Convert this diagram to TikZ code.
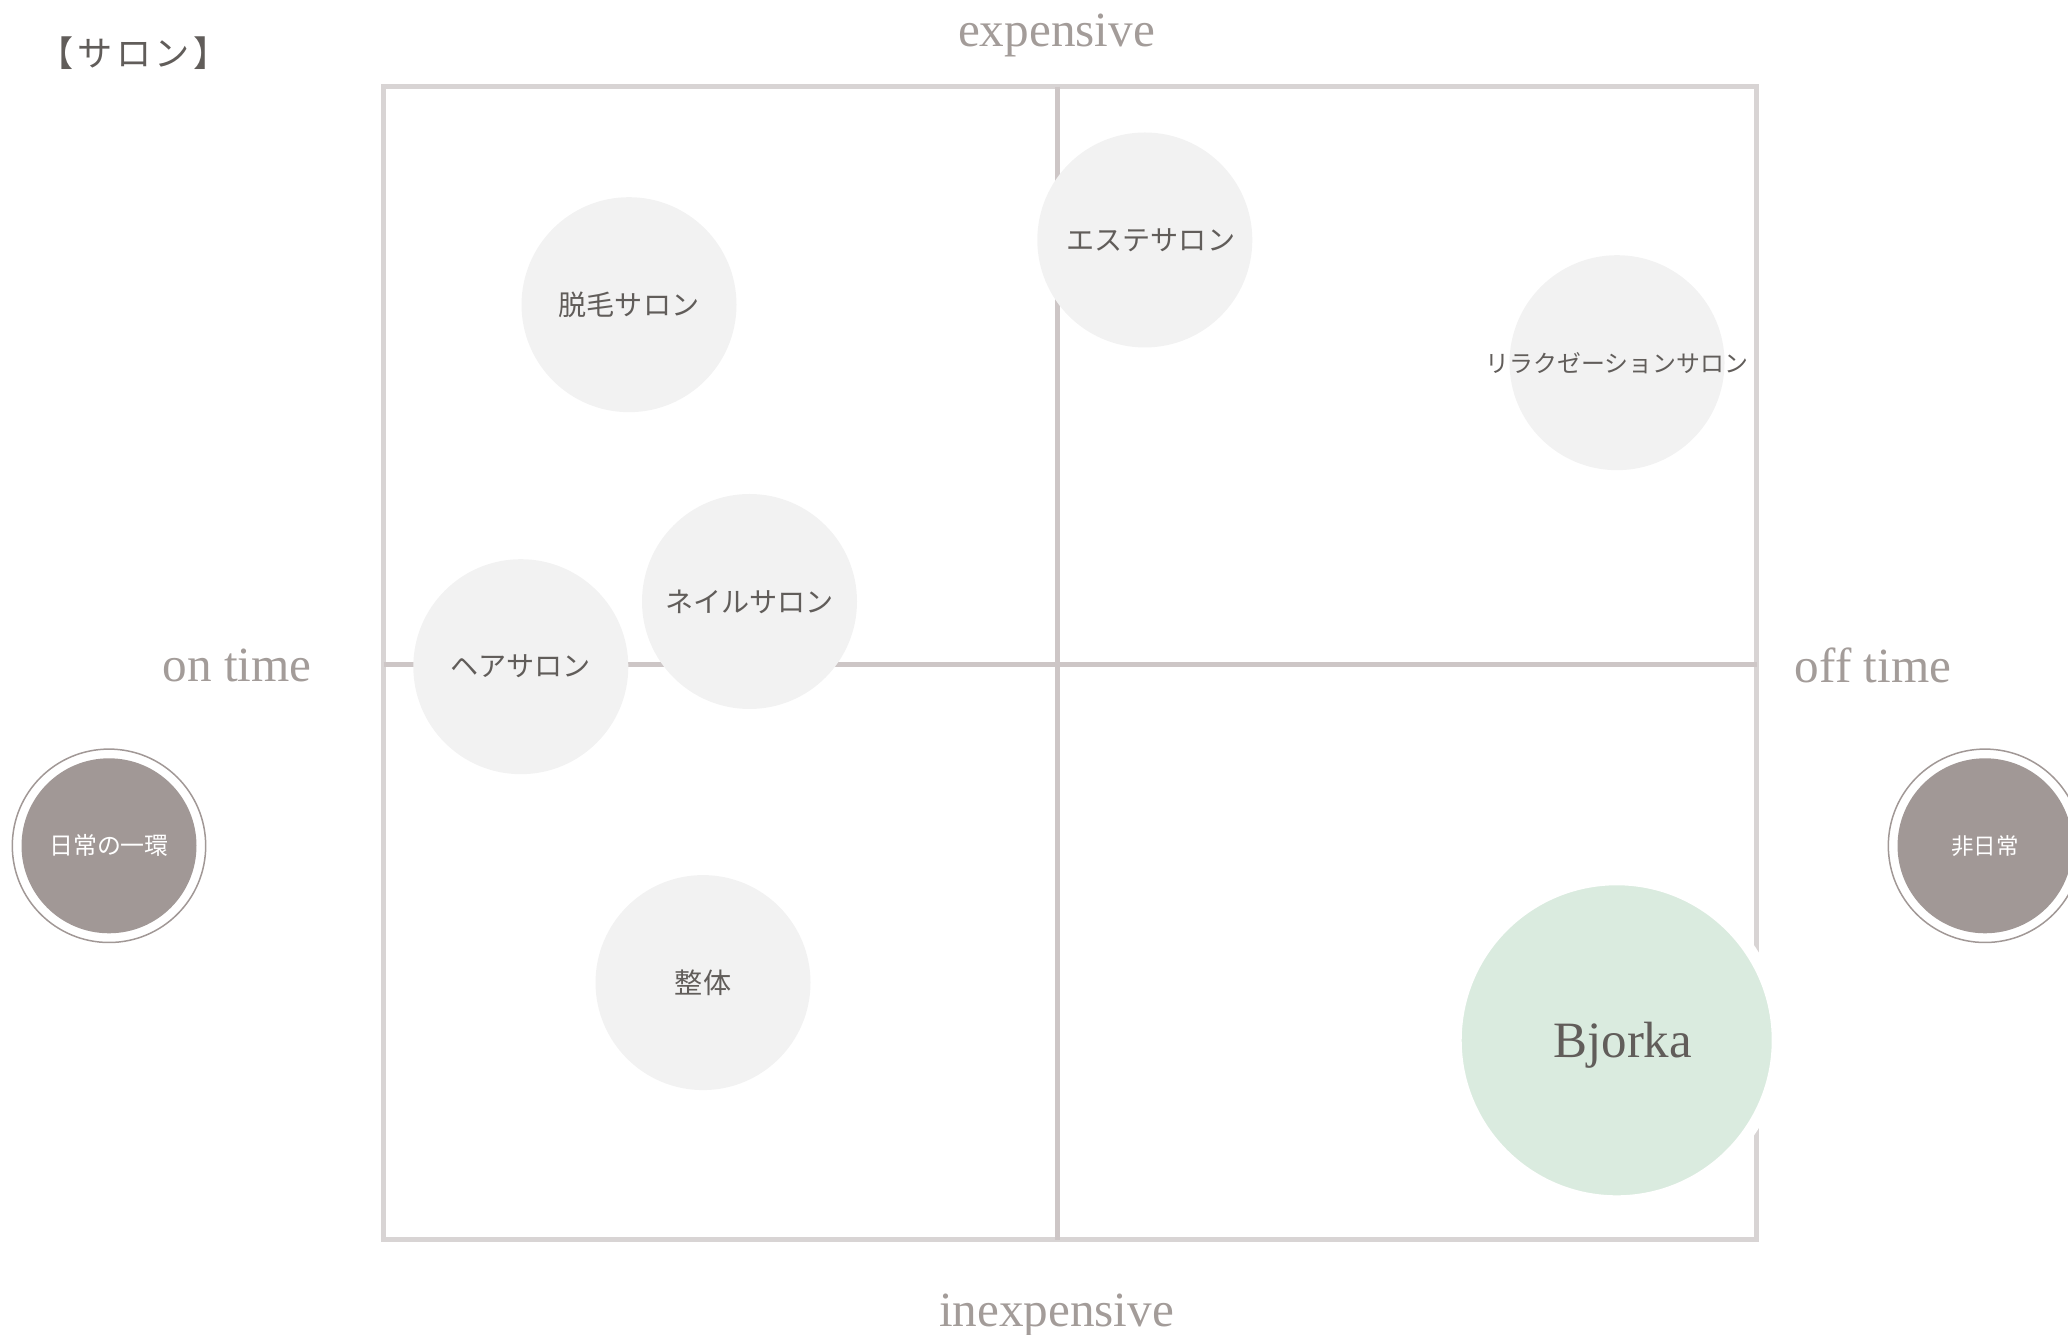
\documentclass[tikz,border=0pt]{standalone}
\usepackage{fontspec}
\setmainfont{Liberation Serif}
\newfontfamily\jp{Noto Sans CJK JP}
\newfontfamily\jptitle[LetterSpace=10]{Noto Sans CJK JP}
\usetikzlibrary{positioning}
\definecolor{framegray}{HTML}{D8D4D4}
\definecolor{axisgray}{HTML}{CDC6C6}
\definecolor{labelgray}{HTML}{A39C99}
\definecolor{textgray}{HTML}{615D5A}
\definecolor{bubblegray}{HTML}{F2F2F2}
\definecolor{bjorkagreen}{HTML}{DAEBDF}
\definecolor{taupe}{HTML}{A19896}

\begin{document}
\begin{tikzpicture}[
  bubble/.style={circle, fill=bubblegray, minimum size=2.15cm, inner sep=0pt,
    text=textgray, font=\jp\fontsize{8}{9}\selectfont},
  axislabel/.style={anchor=base, text=labelgray, inner sep=0pt,
    font=\fontsize{14}{16}\selectfont},
  pole/.style={circle, fill=taupe, minimum size=1.75cm, inner sep=0pt,
    text=white, font=\jp\fontsize{6.8}{8}\selectfont}
  ]
  \useasboundingbox (0,0) rectangle (20.68,13.34);
  % frame and axes
  \coordinate (sw) at (3.835,0.945);
  \coordinate (ne) at (17.567,12.47);
  \draw [framegray, line width=0.05cm] (sw) rectangle (ne);
  \draw [axisgray, line width=0.05cm] (10.575,12.47) -- (10.575,0.945);
  \draw [axisgray, line width=0.05cm] (3.835,6.692) -- (17.567,6.692);
  % axis labels
  \node [axislabel] (top) at (10.565,12.873) {expensive};
  \node [axislabel] (bottom) at (10.565,0.08) {inexpensive};
  \node [axislabel] (left) at (2.37,6.52) {on time};
  \node [axislabel] (right) at (18.73,6.51) {off time};
  \node [anchor=west, inner sep=0pt, text=textgray,
    font=\jptitle\fontsize{10}{11}\selectfont] (title) at (0.38,12.81) {【サロン】};
  % salons
  \node [bubble] (datsumo) at (6.29,10.293) {脱毛サロン};
  \node [bubble] (este) at (11.448,10.94) {};
  \node [text=textgray, inner sep=0pt, font=\jp\fontsize{8}{9}\selectfont]
    (estetext) at ([xshift=0.06cm]este) {エステサロン};
  \node [bubble] (relax) at (16.17,9.713) {};
  \node [text=textgray, inner sep=0pt, font=\jp\fontsize{6.8}{8}\selectfont]
    (relaxtext) at (relax) {リラクゼーションサロン};
  \node [bubble] (nail) at (7.495,7.325) {ネイルサロン};
  \node [bubble] (hair) at (5.208,6.673) {ヘアサロン};
  \node [bubble] (seitai) at (7.03,3.514) {整体};
  \node [circle, fill=bjorkagreen, draw=white, line width=0.12cm, minimum size=3.22cm,
    inner sep=0pt] (bjorka) at (16.167,2.937) {};
  \node [text=textgray, inner sep=0pt, font=\fontsize{14.5}{16}\selectfont]
    (bjorkatext) at ([xshift=0.06cm, yshift=-0.05cm]bjorka) {Bjorka};
  % poles
  \node [pole] (daily) at (1.09,4.882) {日常の一環};
  \draw [taupe, line width=0.015cm] (daily) circle (0.967);
  \node [pole, font=\jp\fontsize{6.4}{8}\selectfont] (nondaily) at (19.85,4.882) {非日常};
  \draw [taupe, line width=0.015cm] (nondaily) circle (0.967);
\end{tikzpicture}
\end{document}
